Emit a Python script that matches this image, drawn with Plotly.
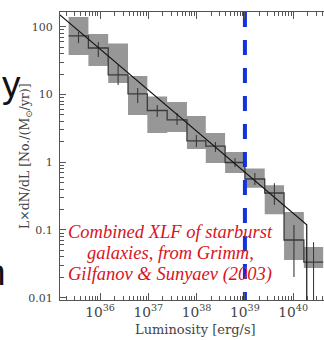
import plotly.graph_objects as go

# ---------------- data ----------------
# luminosity bin edges, log10(L [erg/s])
bin_edges_log = [35.35, 35.76, 36.17, 36.58, 36.98, 37.39, 37.80, 38.19,
                 38.59, 39.00, 39.41, 39.81, 40.22, 40.62]
# L x dN/dL per bin  [No./(Msun/yr)]
xlf_values = [73, 48.5, 19.4, 10.2, 5.8, 4.2, 2.06, 1.73, 0.99, 0.565, 0.351, 0.071, 0.0336]
# grey uncertainty boxes (upper / lower)
box_hi = [139, 78, 56.5, 18.7, 9.33, 7.74, 4.81, 2.70, 1.41, 0.81, 0.456, 0.184, 0.056]
box_lo = [38.2, 26.3, 14.8, 4.98, 2.70, 2.79, 1.57, 0.97, 0.69, 0.42, 0.170, 0.036, 0.0274]
# statistical error bars (upper / lower)
err_hi = [83.5, 59.4, 27.2, 12.4, 6.98, 5.32, 2.51, 1.99, 1.15, 0.69, 0.49, 0.118, 0.066]
err_lo = [57.4, 35.7, 13.8, 7.48, 4.65, 3.54, 1.67, 1.41, 0.85, 0.46, 0.233, 0.0202, 0.005]
# power-law fit with high-luminosity cut-off
fit_logL = [35.17, 40.28, 40.28]
fit_y = [149, 0.119, 0.005]
# vertical marker luminosity
limit_L = 1e39
x_range_log = [35.172, 40.637]
y_range_log = [-2.034, 2.217]
note_lines = ["Combined XLF of starburst", "galaxies, from Grimm,", "Gilfanov & Sunyaev (2003)"]
x_title = "Luminosity [erg/s]"
y_title = "L×dN/dL [No./(M<sub>⊙</sub>/yr)]"

# ---------------- build ----------------
edges = [10 ** e for e in bin_edges_log]
centers = [10 ** ((bin_edges_log[i] + bin_edges_log[i + 1]) / 2) for i in range(len(xlf_values))]

box_x, box_y = [], []
for i in range(len(xlf_values)):
    x0, x1 = edges[i], edges[i + 1]
    box_x += [x0, x1, x1, x0, x0, None]
    box_y += [box_lo[i], box_lo[i], box_hi[i], box_hi[i], box_lo[i], None]

err_x, err_y = [], []
for i in range(len(xlf_values)):
    err_x += [centers[i], centers[i], None]
    err_y += [err_lo[i], err_hi[i], None]

fig = go.Figure()
fig.add_trace(go.Scatter(x=box_x, y=box_y, mode="lines", fill="toself",
                         fillcolor="rgb(150,151,150)", line=dict(width=0, color="rgb(150,151,150)"),
                         hoverinfo="skip", showlegend=False))
fig.add_trace(go.Scatter(x=edges, y=xlf_values + [xlf_values[-1]], mode="lines",
                         line=dict(shape="hv", color="#3a3a3a", width=1.3), showlegend=False))
fig.add_trace(go.Scatter(x=err_x, y=err_y, mode="lines",
                         line=dict(color="#3a3a3a", width=1.1), showlegend=False))
fig.add_trace(go.Scatter(x=[10 ** v for v in fit_logL], y=fit_y, mode="lines",
                         line=dict(color="#151515", width=1.2), showlegend=False))
fig.add_trace(go.Scatter(x=[limit_L, limit_L], y=[10 ** y_range_log[1], 10 ** y_range_log[0]],
                         mode="lines", line=dict(color="#1432dc", width=4, dash="15px,13px"),
                         showlegend=False))

serif = "DejaVu Serif, Liberation Serif, serif"
tickfont = dict(family=serif, size=11, color="#444")
fig.update_xaxes(type="log", range=x_range_log, dtick=1, exponentformat="power",
                 showgrid=False, zeroline=False, showline=True, linecolor="#555", linewidth=1.3,
                 mirror="ticks", ticks="inside", ticklen=7, tickcolor="#555", tickwidth=1,
                 tickfont=tickfont,
                 minor=dict(ticks="inside", ticklen=4, tickcolor="#555", dtick="D1", showgrid=False))
fig.update_yaxes(type="log", range=y_range_log, dtick=1,
                 showgrid=False, zeroline=False, showline=True, linecolor="#555", linewidth=1.3,
                 mirror=False, ticks="inside", ticklen=6, tickcolor="#555", tickwidth=1,
                 tickfont=tickfont, ticklabelstandoff=4,
                 minor=dict(ticks="inside", ticklen=4, tickcolor="#555", dtick="D1", showgrid=False))

anns = []
note_y = [0.236, 0.163, 0.090]
for t, yy in zip(note_lines, note_y):
    anns.append(dict(text="<i>" + t + "</i>", x=0.4167, y=yy, xref="paper", yref="paper",
                     xanchor="center", yanchor="middle", showarrow=False,
                     font=dict(family="Liberation Serif, Times New Roman, Times, serif",
                               size=18.5, color="#d8141e", style="italic")))
anns.append(dict(text=x_title, x=0.515, y=-0.104, xref="paper", yref="paper",
                 xanchor="center", yanchor="middle", showarrow=False,
                 font=dict(family=serif, size=13, color="#444")))
anns.append(dict(text=y_title, x=-0.1326, y=0.5, xref="paper", yref="paper", textangle=-90,
                 xanchor="center", yanchor="middle", showarrow=False,
                 font=dict(family=serif, size=12.5, color="#444")))
# fragments of slide text at the left edge
anns.append(dict(text="y", x=-0.227, y=0.747, xref="paper", yref="paper",
                 xanchor="left", yanchor="middle", showarrow=False,
                 font=dict(family="Liberation Sans, Arial, sans-serif", size=37, color="#111")))
anns.append(dict(text="n", x=-0.197, y=0.097, xref="paper", yref="paper",
                 xanchor="right", yanchor="middle", showarrow=False,
                 font=dict(family="Liberation Sans, Arial, sans-serif", size=37, color="#111")))

fig.update_layout(width=324, height=340, margin=dict(l=60, r=0, t=12, b=40),
                  paper_bgcolor="white", plot_bgcolor="white", showlegend=False,
                  annotations=anns)
fig.write_html("out.html")
